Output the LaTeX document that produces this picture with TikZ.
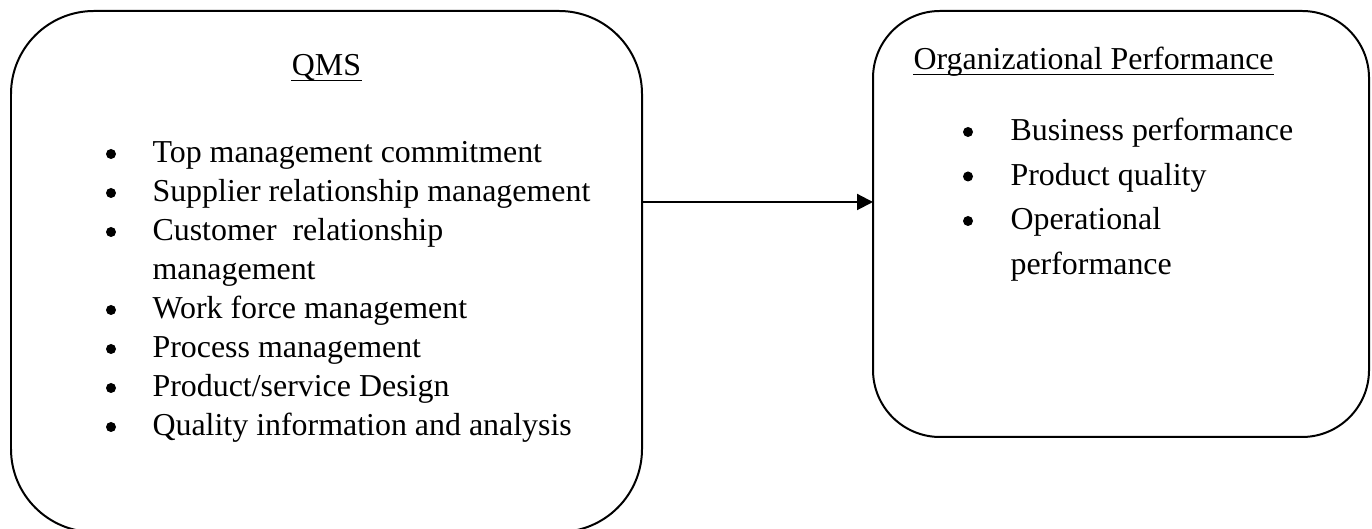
\documentclass[tikz,border=0pt]{standalone}
\usepackage{fontspec}
\setmainfont{Liberation Serif}
\usepackage{tikz}
\usetikzlibrary{arrows.meta}
\usetikzlibrary{calc}
\newcommand{\px}{0.376pt}
\newcommand{\qmsstep}{39}
\newcommand{\perfstep}{44.5}
\tikzset{
    common/.style={draw, line width=0.75pt, rectangle, outer sep=0pt},
    qmsbox/.style={common, minimum width={631*\px}, minimum height={521*\px}, rounded corners={83*\px}},
    perfbox/.style={common, minimum width={496*\px}, minimum height={426*\px}, rounded corners={67*\px}},
    item/.style={anchor=base west, inner sep=0pt, font=\fontsize{12}{14}\selectfont},
    title/.style={item, anchor=base},
    underline/.style={line width=0.45pt},
    dot/.style={circle, fill, inner sep=0pt, minimum size={10*\px}},
    conn/.style={line width=0.75pt, -{Triangle[length=6pt,width=6pt]}}
}
\begin{document}
\begin{tikzpicture}[x=\px, y=-\px]
          \useasboundingbox (0,0) rectangle (1372,529);
          \clip (0,0) rectangle (1372,529);

          \node[qmsbox] (qms) at (326.5,271.5) {};
          \node[perfbox] (perf) at (1121,224) {};

          \node[title] (qms-title) at (326.5,76) {QMS};
          \node[item] (perf-title) at (913,70) {Organizational Performance};
          \draw[underline] ($(qms-title.base west)+(0,4.5)$) -- ($(qms-title.base east)+(0,4.5)$);
          \draw[underline] ($(perf-title.base west)+(0,4.5)$) -- ($(perf-title.base east)+(0,4.5)$);

          \path
              (111,154) node[dot] (qms-dot-1) {}
              ++(0,\qmsstep) node[dot] (qms-dot-2) {}
              ++(0,\qmsstep) node[dot] (qms-dot-3) {}
              ++(0,2*\qmsstep) node[dot] (qms-dot-4) {}
              ++(0,\qmsstep) node[dot] (qms-dot-5) {}
              ++(0,\qmsstep) node[dot] (qms-dot-6) {}
              ++(0,\qmsstep) node[dot] (qms-dot-7) {};

          \path
              (152,163) node[item] (qms-1) {Top management commitment}
              ++(0,\qmsstep) node[item] (qms-2) {Supplier relationship management}
              ++(0,\qmsstep) node[item] (qms-3) {Customer\ \ relationship}
              ++(0,\qmsstep) node[item] (qms-3b) {management}
              ++(0,\qmsstep) node[item] (qms-4) {Work force management}
              ++(0,\qmsstep) node[item] (qms-5) {Process management}
              ++(0,\qmsstep) node[item] (qms-6) {Product/service Design}
              ++(0,\qmsstep) node[item] (qms-7) {Quality information and analysis};

          \path
              (968,132) node[dot] (perf-dot-1) {}
              ++(0,\perfstep) node[dot] (perf-dot-2) {}
              ++(0,\perfstep) node[dot] (perf-dot-3) {};

          \path
              (1010,141) node[item] (perf-1) {Business performance}
              ++(0,\perfstep) node[item] (perf-2) {Product quality}
              ++(0,\perfstep) node[item] (perf-3) {Operational}
              ++(0,\perfstep) node[item] (perf-3b) {performance};

          \coordinate (arrow-level) at (0,202);
          \draw[conn] (qms.east |- arrow-level) -- (perf.west |- arrow-level);
        \end{tikzpicture}
\end{document}
